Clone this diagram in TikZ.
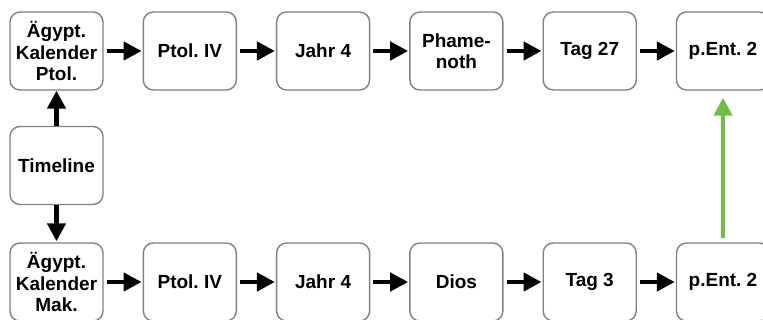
\documentclass[tikz,border=0pt]{standalone}
\usepackage{fontspec}
\setmainfont{Liberation Sans}
\usetikzlibrary{arrows.meta}
\definecolor{boxgray}{RGB}{128,128,128}
\definecolor{arrgreen}{RGB}{112,189,72}
\begin{document}
\begin{tikzpicture}[x=1pt,y=-1pt,
  box/.style={draw=boxgray,line width=1.4pt,rounded corners=10pt,fill=white,
    minimum width=93pt,minimum height=78pt,inner sep=0pt,align=center,
    font=\fontsize{19}{21.5}\selectfont\bfseries\frenchspacing},
  tip/.style={-{Triangle[length=18pt,width=18pt]}},
  blk/.style={line width=4.5pt,tip,shorten <=3pt,shorten >=1pt},
  grn/.style={draw=arrgreen,line width=4.5pt,tip,shorten <=4pt,shorten >=7pt}]
\useasboundingbox (0,0) rectangle (763,320);
\node[box] (a0) at (56.5,51) {Ägypt.\\Kalender\\Ptol.};
\node[box] (a1) at (189.8,51) {Ptol. IV};
\node[box] (a2) at (323.1,51) {Jahr 4};
\node[box] (a3) at (456.4,51) {Phame-\\noth};
\node[box] (a4) at (589.7,51) {Tag 27};
\node[box] (a5) at (723,51) {p.Ent. 2};
\node[box] (t) at (56.5,165.5) {Timeline};
\node[box] (b0) at (56.5,282) {Ägypt.\\Kalender\\Mak.};
\node[box] (b1) at (189.8,282) {Ptol. IV};
\node[box] (b2) at (323.1,282) {Jahr 4};
\node[box] (b3) at (456.4,282) {Dios};
\node[box] (b4) at (589.7,282) {Tag 3};
\node[box] (b5) at (723,282) {p.Ent. 2};
\foreach \i/\j in {0/1,1/2,2/3,3/4,4/5}{
  \draw[blk] (a\i) -- (a\j);
  \draw[blk] (b\i) -- (b\j);
}
\draw[line width=4.5pt,tip] (t) -- (a0);
\draw[line width=4.5pt,tip,shorten >=1pt] (t) -- (b0);
\draw[grn] (b5) -- (a5);
\end{tikzpicture}
\end{document}
